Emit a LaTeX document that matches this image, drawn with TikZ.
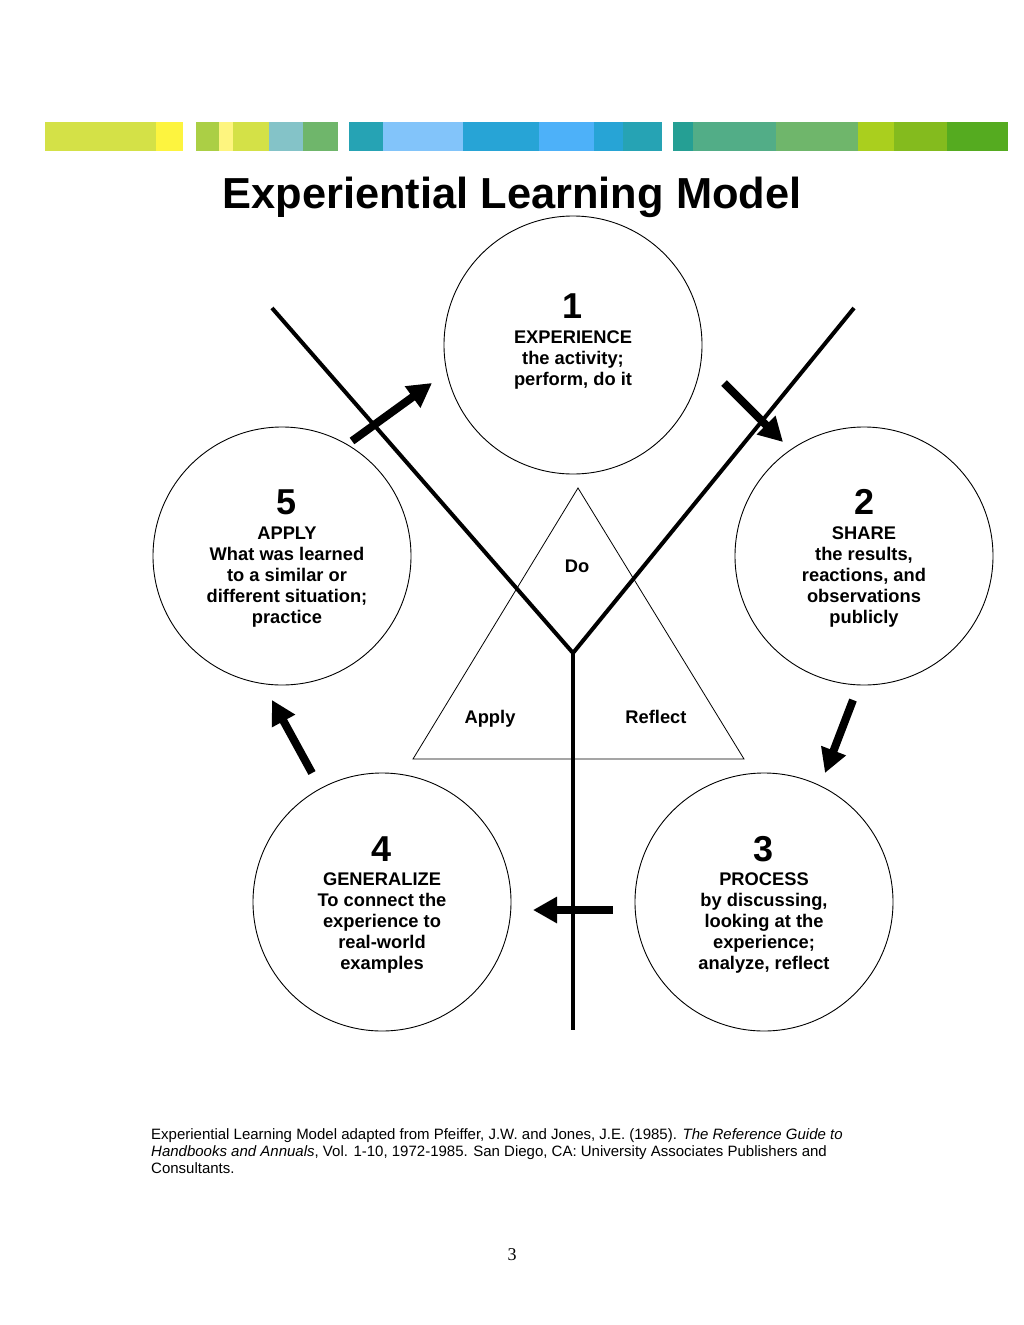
\documentclass[tikz,border=0pt]{standalone}
\usepackage{fontspec}
\setmainfont{Liberation Sans}
\newfontfamily\pnfont{Liberation Serif}
\usetikzlibrary{arrows.meta}
\definecolor{cA}{HTML}{D4E147}
\definecolor{cB}{HTML}{FDF43F}
\definecolor{cC}{HTML}{ABCF45}
\definecolor{cD}{HTML}{FEF57F}
\definecolor{cE}{HTML}{84C3C8}
\definecolor{cF}{HTML}{6FB66B}
\definecolor{cG}{HTML}{26A3B4}
\definecolor{cH}{HTML}{82C4FA}
\definecolor{cI}{HTML}{27A4D6}
\definecolor{cJ}{HTML}{4DB1F9}
\definecolor{cK}{HTML}{259F94}
\definecolor{cL}{HTML}{52AD87}
\definecolor{cM}{HTML}{AACF1E}
\definecolor{cN}{HTML}{84BB1E}
\definecolor{cO}{HTML}{55AB20}
\begin{document}
\begin{tikzpicture}[x=1pt,y=-1pt,
  circ/.style={draw, circle, minimum size=258pt, inner sep=0pt, line width=0.9pt},
  num/.style={anchor=base, inner sep=0pt, font=\fontsize{36}{40}\selectfont\bfseries},
  body/.style={anchor=base, inner sep=0pt, font=\fontsize{18.3}{21}\selectfont\bfseries},
  lbl/.style={anchor=base, inner sep=0pt, font=\fontsize{18.3}{21}\selectfont\bfseries},
  yline/.style={line width=4pt},
  tri/.style={line width=0.8pt},
  bigarrow/.style={line width=8pt, -{Triangle[length=24pt,width=25pt]}}
]
\useasboundingbox (0,0) rectangle (1024,1325);
% colour bar
\fill[cA] (45,122) rectangle (156,151);
\fill[cB] (156,122) rectangle (183,151);
\fill[cC] (196,122) rectangle (219,151);
\fill[cD] (219,122) rectangle (233,151);
\fill[cA] (233,122) rectangle (269,151);
\fill[cE] (269,122) rectangle (303,151);
\fill[cF] (303,122) rectangle (338,151);
\fill[cG] (349,122) rectangle (383,151);
\fill[cH] (383,122) rectangle (463,151);
\fill[cI] (463,122) rectangle (539,151);
\fill[cJ] (539,122) rectangle (594,151);
\fill[cI] (594,122) rectangle (623,151);
\fill[cG] (623,122) rectangle (662,151);
\fill[cK] (673,122) rectangle (693,151);
\fill[cL] (693,122) rectangle (776,151);
\fill[cF] (776,122) rectangle (858,151);
\fill[cM] (858,122) rectangle (894,151);
\fill[cN] (894,122) rectangle (947,151);
\fill[cO] (947,122) rectangle (1008,151);
% title
\node[anchor=base, inner sep=0pt, font=\fontsize{43.4}{48}\selectfont\bfseries] (title) at (512,208) {Experiential Learning Model};
% circles
\node[circ] (c1) at (573,345) {};
\node[circ] (c2) at (864,556) {};
\node[circ] (c3) at (764,902) {};
\node[circ] (c4) at (382,902) {};
\node[circ] (c5) at (282,556) {};
% Y lines
\coordinate (yl) at (272,308);
\coordinate (yr) at (854,308);
\coordinate (yj) at (573,653);
\coordinate (yb) at (573,1030);
\draw[yline] (yl) -- (yj) -- (yr);
\draw[yline] (yj) -- (yb);
% triangle
\coordinate (ta) at (578,488);
\coordinate (tl) at (413,759);
\coordinate (tr) at (744,759);
\draw[tri] (ta) -- (tl) -- (tr) -- cycle;
\node[lbl] (do) at (577,572) {Do};
\node[lbl] (apply) at (490,723) {Apply};
\node[lbl] (reflect) at (656,723) {Reflect};
% texts
\node[num] (n1) at (573,318) {1};
\node[body] (t1) at (573,343) {\begin{tabular}[t]{@{}c@{}}EXPERIENCE\\the activity;\\perform, do it\end{tabular}};
\node[num] (n2) at (864,514) {2};
\node[body] (t2) at (864,539) {\begin{tabular}[t]{@{}c@{}}SHARE\\the results,\\reactions, and\\observations\\publicly\end{tabular}};
\node[num] (n5) at (287,514) {5};
\node[body] (t5) at (287,539) {\begin{tabular}[t]{@{}c@{}}APPLY\\What was learned\\to a similar or\\different situation;\\practice\end{tabular}};
\node[num] (n4) at (382,861) {4};
\node[body] (t4) at (382,885) {\begin{tabular}[t]{@{}c@{}}GENERALIZE\\To connect the\\experience to\\real-world\\examples\end{tabular}};
\node[num] (n3) at (764,861) {3};
\node[body] (t3) at (764,885) {\begin{tabular}[t]{@{}c@{}}PROCESS\\by discussing,\\looking at the\\experience;\\analyze, reflect\end{tabular}};
% arrows
\coordinate (a1s) at (352,441); \coordinate (a1e) at (432,383);
\coordinate (a2s) at (724,383); \coordinate (a2e) at (783,442);
\coordinate (a3s) at (853,700); \coordinate (a3e) at (825,773);
\coordinate (a4s) at (613,910); \coordinate (a4e) at (533,910);
\coordinate (a5s) at (312,773); \coordinate (a5e) at (272,700);
\draw[bigarrow] (a1s) -- (a1e);
\draw[bigarrow] (a2s) -- (a2e);
\draw[bigarrow] (a3s) -- (a3e);
\draw[bigarrow] (a4s) -- (a4e);
\draw[bigarrow] (a5s) -- (a5e);
% footnote
\node[anchor=base west, inner sep=0pt, font=\fontsize{15}{17}\selectfont] (foot) at (151,1139)
  {\begin{tabular}[t]{@{}l@{}}Experiential Learning Model adapted from Pfeiffer, J.W. and Jones, J.E. (1985). \textit{The Reference Guide to}\\\textit{Handbooks and Annuals}, Vol. 1-10, 1972-1985. San Diego, CA: University Associates Publishers and\\Consultants.\end{tabular}};
\node[anchor=base, inner sep=0pt, font=\pnfont\fontsize{18}{20}\selectfont] (pn) at (512,1260) {3};
\end{tikzpicture}
\end{document}
